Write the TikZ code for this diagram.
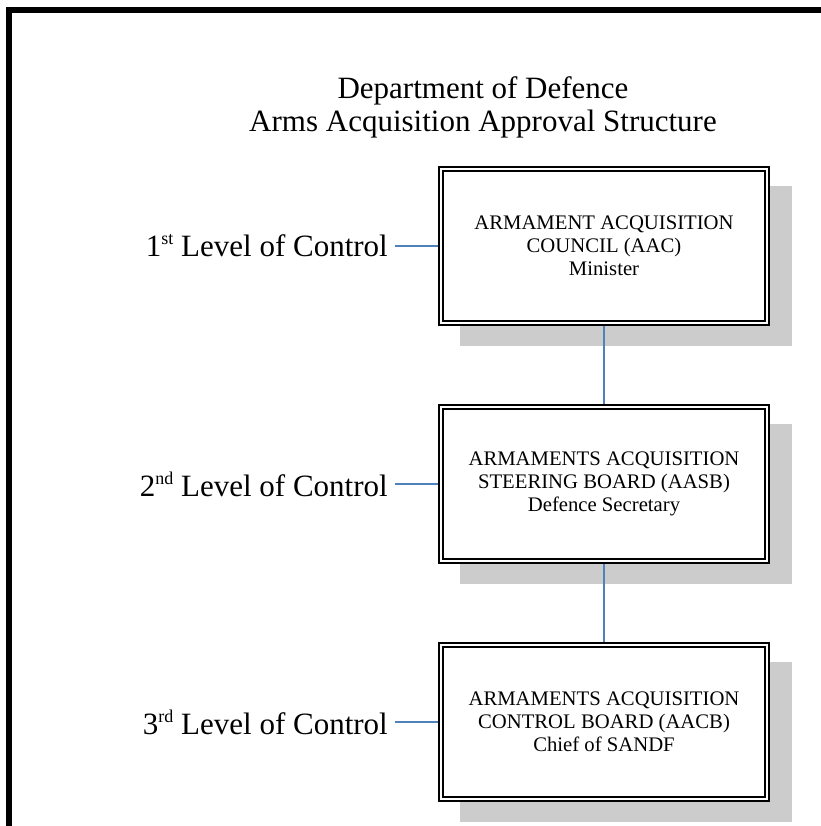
\documentclass[tikz,border=0pt]{standalone}
\usepackage{fontspec}
\setmainfont{Liberation Serif}
\usetikzlibrary{
  positioning,
  backgrounds
}
\definecolor{linkblue}{RGB}{79,129,189}
\definecolor{shadowgray}{RGB}{204,204,204}
\newcommand{\lvlname}[2]{#1\raisebox{12pt}{\fontsize{18}{18}\selectfont #2} Level of Control}

\begin{document}
\begin{tikzpicture}[x=1pt,y=1pt,node distance=78pt,
  board/.style={
    draw, double, line width=2pt, double distance=2pt, fill=white,
    minimum width=326pt, minimum height=154pt, inner sep=0pt, outer sep=3pt,
    align=center, font=\fontsize{20.7}{23}\selectfont
  },
  level/.style={left=43pt of #1, inner sep=7pt, font=\fontsize{31}{36}\selectfont},
  link/.style={draw=linkblue, line width=1.5pt}
]
\useasboundingbox (0,0) rectangle (820,826);
\draw[line width=6pt] (830,816) -- (9,816) -- (9,-10);

\node[align=center, font=\fontsize{31}{33}\selectfont] (title) at (483,719)
  {Department of Defence\\Arms Acquisition Approval Structure};

\node[board] (aac) at (604,580) {ARMAMENT ACQUISITION\\COUNCIL (AAC)\\Minister};
\node[board, below=of aac] (aasb) {ARMAMENTS ACQUISITION\\STEERING BOARD (AASB)\\Defence Secretary};
\node[board, below=of aasb] (aacb) {ARMAMENTS ACQUISITION\\CONTROL BOARD (AACB)\\Chief of SANDF};

\node[level=aac] (lvl-1) {\lvlname{1}{st}};
\node[level=aasb] (lvl-2) {\lvlname{2}{nd}};
\node[level=aacb] (lvl-3) {\lvlname{3}{rd}};

\begin{scope}[on background layer]
\foreach \b in {aac,aasb,aacb}
  \fill[shadowgray] ([shift={(22,-20)}]\b.north west) rectangle ([shift={(22,-20)}]\b.south east);
\end{scope}

\draw[link] (lvl-1) -- (aac);
\draw[link] (lvl-2) -- (aasb);
\draw[link] (lvl-3) -- (aacb);
\draw[link] (aac) -- (aasb);
\draw[link] (aasb) -- (aacb);

\end{tikzpicture}
\end{document}
